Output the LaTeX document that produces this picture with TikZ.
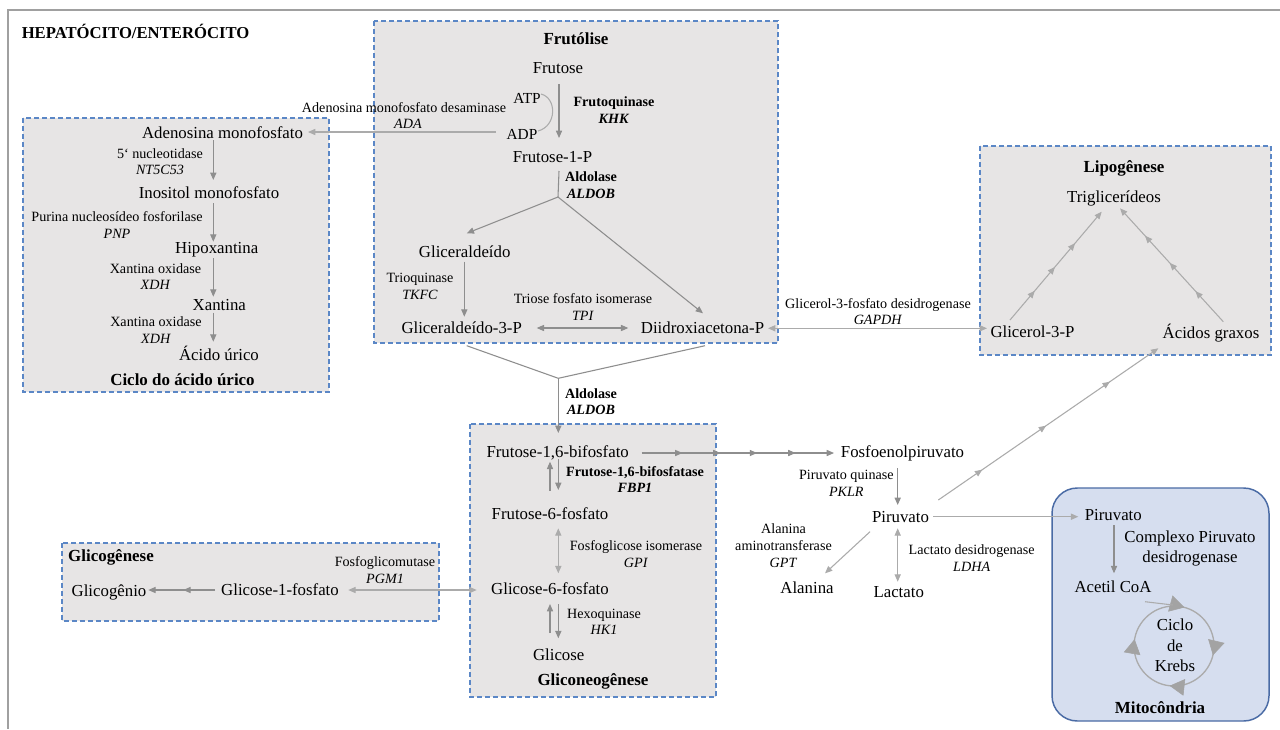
\documentclass[tikz,border=0pt]{standalone}
\usepackage{fontspec}
\setmainfont{Liberation Serif}
\usetikzlibrary{arrows.meta,decorations.markings}
\definecolor{boxfill}{HTML}{E7E5E5}
\definecolor{boxblue}{HTML}{5B87C6}
\definecolor{mitofill}{HTML}{D6DEEF}
\definecolor{mitoline}{HTML}{4A6BA5}
\definecolor{dgray}{HTML}{8E8E8E}
\definecolor{lgray}{HTML}{ABABAB}
\definecolor{kgray}{HTML}{A3A3A3}
\definecolor{framegray}{HTML}{A0A0A0}
\begin{document}
\begin{tikzpicture}[x=0.75pt,y=-0.75pt,
  >={Triangle[length=5.5pt,width=4.6pt]},
  lab/.style={inner sep=0pt, anchor=base, yshift=-4.2pt, font=\fontsize{12.6}{15}\selectfont},
  mlab/.style={inner sep=0pt, anchor=base, yshift=-3.9pt, font=\fontsize{11.5}{14}\selectfont},
  biglines/.style={inner sep=0pt, align=center, font=\fontsize{12.6}{15.2}\selectfont},
  enz/.style={inner sep=0pt, align=center, font=\fontsize{10.6}{12.45}\selectfont},
  hdr/.style={inner sep=0pt, anchor=base, yshift=-4.2pt, font=\fontsize{12.7}{15}\selectfont\bfseries},
  dbox/.style={draw=boxblue, fill=boxfill, line width=1pt, dash pattern=on 3.6pt off 2.4pt},
  arr/.style={->, draw=dgray, line width=0.8pt},
  arrl/.style={->, draw=lgray, line width=0.8pt},
  darr/.style={<->, draw=dgray, line width=0.8pt},
  darrl/.style={<->, draw=lgray, line width=0.8pt},
  plain/.style={draw=dgray, line width=0.8pt},
  kt/.tip={Triangle[length=11pt,width=12.5pt]}
]
\useasboundingbox (0,0) rectangle (1280,729);
\fill[white] (0,0) rectangle (1280,729);
% outer frame
\draw[framegray, line width=1.6pt] (1280,10) -- (8,10) -- (8,729);
\node[anchor=west, inner sep=0pt, font=\fontsize{12.5}{15}\selectfont\bfseries] (title) at (21.5,31) {HEPATÓCITO/ENTERÓCITO};

% boxes
\path[dbox] (374,21) rectangle (778,343);
\path[dbox] (23,118) rectangle (329,392);
\path[dbox] (980,146) rectangle (1271,355);
\path[dbox] (470,424) rectangle (716,697);
\path[dbox] (62,543) rectangle (439,621);
\path[draw=mitoline, fill=mitofill, line width=1.1pt, rounded corners=19pt] (1052,488) rectangle (1269,721);

% ---------- Frutolise ----------
\node[hdr] (hFrut) at (576,39) {Frutólise};
\node[lab] (frutose) at (558,68) {Frutose};
\node[mlab] (atp) at (527,98) {ATP};
\node[mlab] (adp) at (522,134) {ADP};
\node[enz, font=\fontsize{10.6}{12.45}\selectfont\bfseries] (khk) at (614,110) {Frutoquinase\\\textit{KHK}};
\node[enz] (ada) at (404,115.5) {Adenosina monofosfato desaminase\\\hspace*{6pt}\textit{ADA}};
\node[lab] (f1p) at (552.5,157) {Frutose-1-P};
\node[enz, font=\fontsize{10.6}{12.45}\selectfont\bfseries] (ald1) at (591,185) {Aldolase\\\textit{ALDOB}};
\node[lab] (glic) at (464.7,251.7) {Gliceraldeído};
\node[enz] (tkfc) at (420,286.5) {Trioquinase\\\textit{TKFC}};
\node[enz] (tpi) at (583,307) {Triose fosfato isomerase\\\textit{TPI}};
\node[lab] (g3p) at (461.7,328.3) {Gliceraldeído-3-P};
\node[lab] (dhap) at (702.5,328) {Diidroxiacetona-P};
\node[enz, font=\fontsize{10.6}{12.45}\selectfont\bfseries] (ald2) at (591,401.7) {Aldolase\\\textit{ALDOB}};

% ---------- Acido urico ----------
\node[lab] (amp) at (222.5,132.7) {Adenosina monofosfato};
\node[enz] (nt5) at (160,161.7) {5‘ nucleotidase\\\textit{NT5C53}};
\node[lab] (imp) at (209,193) {Inositol monofosfato};
\node[enz] (pnp) at (117,225.3) {Purina nucleosídeo fosforilase\\\textit{PNP}};
\node[lab] (hip) at (216.7,248.3) {Hipoxantina};
\node[enz] (xdh1) at (155.5,276.7) {Xantina oxidase\\\textit{XDH}};
\node[lab] (xan) at (219.3,305) {Xantina};
\node[enz] (xdh2) at (156,330) {Xantina oxidase\\\textit{XDH}};
\node[lab] (uric) at (219,355) {Ácido úrico};
\node[hdr] (hUric) at (182.5,380) {Ciclo do ácido úrico};

% ---------- Lipogenese ----------
\node[hdr] (hLipo) at (1124,167.3) {Lipogênese};
\node[lab] (tg) at (1114,196.7) {Triglicerídeos};
\node[lab] (g3pl) at (1032.5,331.7) {Glicerol-3-P};
\node[lab] (fa) at (1211,333.3) {Ácidos graxos};
\node[enz] (gapdh) at (878,311.7) {Glicerol-3-fosfato desidrogenase\\\textit{GAPDH}};

% ---------- Gliconeogenese ----------
\node[lab] (f16bp) at (557.7,451.7) {Frutose-1,6-bifosfato};
\node[enz, font=\fontsize{10.6}{12.45}\selectfont\bfseries] (fbp1) at (635,479.7) {Frutose-1,6-bifosfatase\\\textit{FBP1}};
\node[lab] (f6p) at (550,514.3) {Frutose-6-fosfato};
\node[enz] (gpi) at (636,554.2) {Fosfoglicose isomerase\\\textit{GPI}};
\node[lab] (g6p) at (550,589.3) {Glicose-6-fosfato};
\node[enz] (hk1) at (604,621.7) {Hexoquinase\\\textit{HK1}};
\node[lab] (glc) at (558.7,655) {Glicose};
\node[hdr] (hGneo) at (593,680) {Gliconeogênese};

% ---------- Glicogenese ----------
\node[hdr] (hGlyc) at (111,556) {Glicogênese};
\node[lab] (glycogen) at (109,590.7) {Glicogênio};
\node[lab] (g1p) at (280,590) {Glicose-1-fosfato};
\node[enz] (pgm1) at (385,570) {Fosfoglicomutase\\\textit{PGM1}};

% ---------- Piruvato area ----------
\node[lab] (pep) at (902.5,451.7) {Fosfoenolpiruvato};
\node[enz] (pklr) at (846.3,483.3) {Piruvato quinase\\\textit{PKLR}};
\node[lab] (pyr) at (900.5,516.7) {Piruvato};
\node[enz] (gpt) at (783.5,545.7) {Alanina\\aminotransferase\\\textit{GPT}};
\node[lab] (ala) at (807,588.3) {Alanina};
\node[enz] (ldha) at (971.7,558.3) {Lactato desidrogenase\\\textit{LDHA}};
\node[lab] (lac) at (898.7,591.7) {Lactato};

% ---------- Mitocondria ----------
\node[lab] (pyrm) at (1113.3,515) {Piruvato};
\node[biglines] (pdh) at (1190,548.3) {Complexo Piruvato\\desidrogenase};
\node[lab] (acoa) at (1113,586.7) {Acetil CoA};
\node[biglines] (krebs) at (1175,645.5) {Ciclo\\de\\Krebs};
\node[hdr] (hMito) at (1160,708.3) {Mitocôndria};

% ---------- connector end points ----------
\coordinate (fA) at (559,84);      \coordinate (fB) at (559,138);
\coordinate (atpE) at (541,94);    \coordinate (adpE) at (538,131);
\coordinate (adaL) at (496,132);   \coordinate (ampE) at (308,132);
\coordinate (f1pS) at (559,171);   \coordinate (br1) at (558,197);
\coordinate (glicN) at (466.7,233.3); \coordinate (dhapN) at (703,313.3);
\coordinate (glicS) at (464.3,261.7); \coordinate (g3pN) at (464.3,316.7);
\coordinate (g3pE) at (536.7,328); \coordinate (dhapW) at (628.3,328);
\coordinate (dhapE) at (768,328.3); \coordinate (g3plW) at (987,328.3);
\coordinate (g3pS) at (466.7,345.7); \coordinate (dhapS) at (705,345.7);
\coordinate (br2) at (558.3,378.3); \coordinate (f16N) at (558.3,433);
% uric
\coordinate (u1a) at (213.3,140); \coordinate (u1b) at (213.3,180);
\coordinate (u2a) at (213.3,203); \coordinate (u2b) at (213.3,241.7);
\coordinate (u3a) at (213.3,258.3); \coordinate (u3b) at (213.3,296.7);
\coordinate (u4a) at (213.3,312.7); \coordinate (u4b) at (213.3,341.7);
% gluconeo
\coordinate (f16E) at (641.7,453); \coordinate (pepW) at (834,453);
\coordinate (fuA) at (550,490.7); \coordinate (fuB) at (550,461.7);
\coordinate (fdA) at (558.3,459.3); \coordinate (fdB) at (558.3,490);
\coordinate (giA) at (558.3,528.3); \coordinate (giB) at (558.3,573.3);
\coordinate (huA) at (550,633); \coordinate (huB) at (550,604);
\coordinate (hdA) at (558.3,604); \coordinate (hdB) at (558.3,638.3);
\coordinate (g1pE) at (348.3,590); \coordinate (g6pW) at (476.7,590);
\coordinate (g1pW) at (215,590); \coordinate (glyE) at (148.3,590);
% piruvato
\coordinate (pepS) at (897.7,468.3); \coordinate (pyrN) at (897.7,505);
\coordinate (pyrSW) at (870,531.7); \coordinate (alaN) at (825,573.3);
\coordinate (pyrS) at (897.7,528.3); \coordinate (lacN) at (897.7,581.7);
\coordinate (pyrE) at (933.3,516.7); \coordinate (pyrmW) at (1078.3,516.7);
\coordinate (pyrNE) at (938.3,500); \coordinate (faS) at (1158.3,348.3);
\coordinate (g3plN) at (1010,320); \coordinate (tgSW) at (1101.7,211.7);
\coordinate (faN) at (1223.3,321.7); \coordinate (tgSE) at (1120,208.3);
\coordinate (pyrmS) at (1114,525); \coordinate (acoaN) at (1114,573.3);
\coordinate (acoaE) at (1145,601.7); \coordinate (kTop) at (1173,605);
\coordinate (kC) at (1174,646);

% ---------- connectors ----------
\draw[arr] (fA) -- (fB);
\draw[draw=lgray, line width=0.8pt] (atpE) .. controls (557,98) and (557,126) .. (adpE);
\draw[arrl] (adaL) -- (ampE);
\draw[plain] (f1pS) -- (br1);
\draw[arr] (br1) -- (glicN);
\draw[arr] (br1) -- (dhapN);
\draw[arr] (glicS) -- (g3pN);
\draw[darr] (g3pE) -- (dhapW);
\draw[darrl] (dhapE) -- (g3plW);
\draw[plain] (g3pS) -- (br2) -- (dhapS);
\draw[arr] (br2) -- (f16N);

\draw[arr] (u1a) -- (u1b);
\draw[arr] (u2a) -- (u2b);
\draw[arr] (u3a) -- (u3b);
\draw[arr] (u4a) -- (u4b);

\draw[arr, postaction={decorate}, decoration={markings,
  mark=at position 0.212 with {\arrow{>}},
  mark=at position 0.41 with {\arrow{>}},
  mark=at position 0.60 with {\arrow{>}},
  mark=at position 0.80 with {\arrow{>}}}] (f16E) -- (pepW);
\draw[arr] (fuA) -- (fuB);
\draw[arr] (fdA) -- (fdB);
\draw[darrl] (giA) -- (giB);
\draw[arr] (huA) -- (huB);
\draw[arr] (hdA) -- (hdB);
\draw[darrl] (g1pE) -- (g6pW);
\draw[arr, postaction={decorate}, decoration={markings,
  mark=at position 0.475 with {\arrow{>}}}] (g1pW) -- (glyE);

\draw[arr] (pepS) -- (pyrN);
\draw[arrl] (pyrSW) -- (alaN);
\draw[darrl] (pyrS) -- (lacN);
\draw[arrl] (pyrE) -- (pyrmW);
\draw[arrl, postaction={decorate}, decoration={markings,
  mark=at position 0.2 with {\arrow{>}},
  mark=at position 0.49 with {\arrow{>}},
  mark=at position 0.78 with {\arrow{>}}}] (pyrNE) -- (faS);
\draw[arrl, postaction={decorate}, decoration={markings,
  mark=at position 0.27 with {\arrow{>}},
  mark=at position 0.49 with {\arrow{>}},
  mark=at position 0.71 with {\arrow{>}}}] (g3plN) -- (tgSW);
\draw[arrl, postaction={decorate}, decoration={markings,
  mark=at position 0.27 with {\arrow{>}},
  mark=at position 0.52 with {\arrow{>}},
  mark=at position 0.76 with {\arrow{>}}}] (faN) -- (tgSE);
\draw[arr] (pyrmS) -- (acoaN);

% Krebs cycle
\draw[lgray, line width=1pt] (kC) circle[radius=40];
\path[postaction={decorate}, decoration={markings,
  mark=at position 0.07 with {\arrow[kgray]{kt}},
  mark=at position 0.315 with {\arrow[kgray]{kt}},
  mark=at position 0.545 with {\arrow[kgray]{kt}},
  mark=at position 0.805 with {\arrow[kgray]{kt}}}]
  (kC) ++(260:40) arc[start angle=260, end angle=620, radius=40];
\draw[lgray, line width=0.8pt] (acoaE) -- (kTop);
\end{tikzpicture}
\end{document}
